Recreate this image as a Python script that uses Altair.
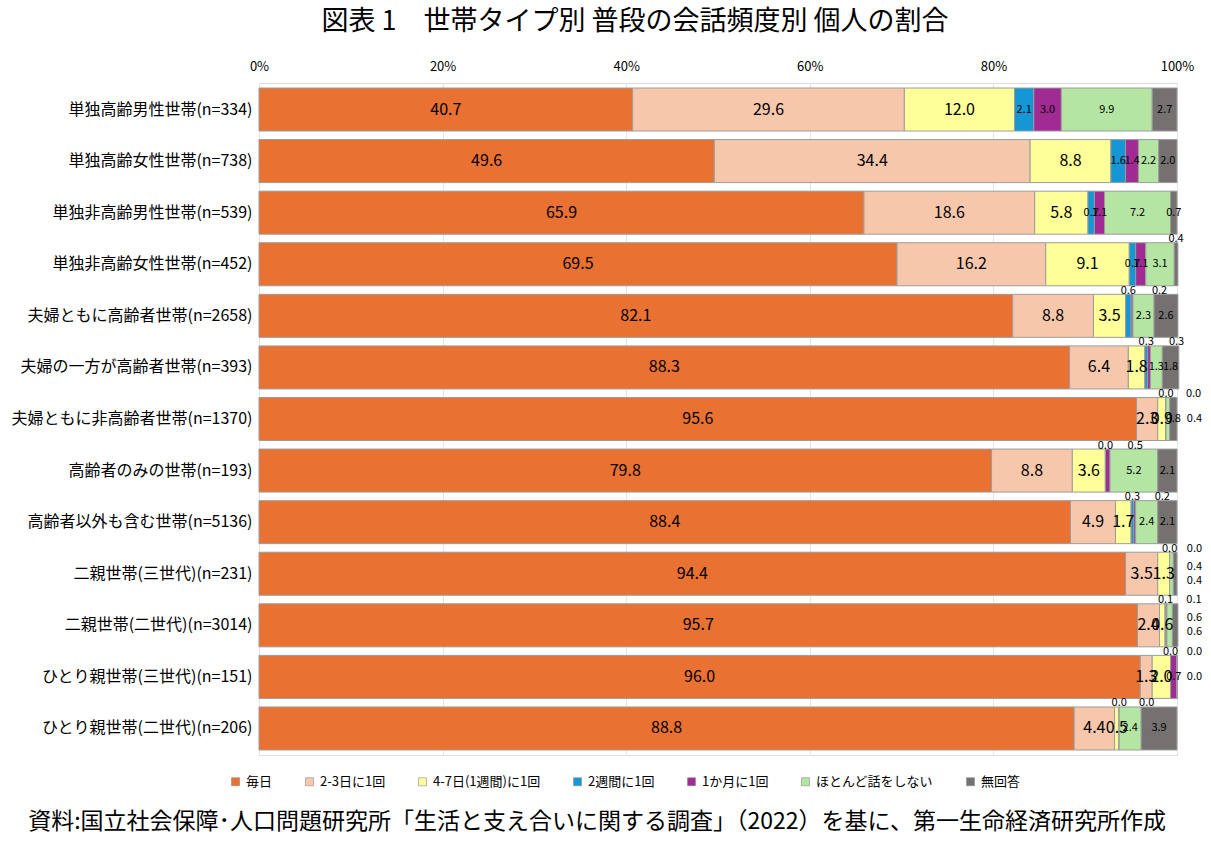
import altair as alt
import pandas as pd

# Household types (rows, top to bottom)
households = [
    "単独高齢男性世帯(n=334)",
    "単独高齢女性世帯(n=738)",
    "単独非高齢男性世帯(n=539)",
    "単独非高齢女性世帯(n=452)",
    "夫婦ともに高齢者世帯(n=2658)",
    "夫婦の一方が高齢者世帯(n=393)",
    "夫婦ともに非高齢者世帯(n=1370)",
    "高齢者のみの世帯(n=193)",
    "高齢者以外も含む世帯(n=5136)",
    "二親世帯(三世代)(n=231)",
    "二親世帯(二世代)(n=3014)",
    "ひとり親世帯(三世代)(n=151)",
    "ひとり親世帯(二世代)(n=206)",
]

# Conversation frequency categories and their colours
series = ["毎日", "2-3日に1回", "4-7日(1週間)に1回", "2週間に1回",
          "1か月に1回", "ほとんど話をしない", "無回答"]
colors = ["#E97132", "#F7C7AC", "#FFFF99", "#1497D4",
          "#A02B93", "#B4E5A2", "#767171"]

# Share of individuals (%) per category, one value per household type
daily = [40.7, 49.6, 65.9, 69.5, 82.1, 88.3, 95.6, 79.8, 88.4, 94.4, 95.7, 96.0, 88.8]
every_2_3 = [29.6, 34.4, 18.6, 16.2, 8.8, 6.4, 2.3, 8.8, 4.9, 3.5, 2.4, 1.3, 4.4]
weekly = [12.0, 8.8, 5.8, 9.1, 3.5, 1.8, 0.9, 3.6, 1.7, 1.3, 0.6, 2.0, 0.5]
biweekly = [2.1, 1.6, 0.7, 0.7, 0.6, 0.3, 0.0, 0.0, 0.3, 0.0, 0.1, 0.0, 0.0]
monthly = [3.0, 1.4, 1.1, 1.1, 0.2, 0.3, 0.0, 0.5, 0.2, 0.0, 0.1, 0.7, 0.0]
rarely = [9.9, 2.2, 7.2, 3.1, 2.3, 1.3, 0.4, 5.2, 2.4, 0.4, 0.6, 0.0, 2.4]
no_answer = [2.7, 2.0, 0.7, 0.4, 2.6, 1.8, 0.8, 2.1, 2.1, 0.4, 0.6, 0.0, 3.9]

x_ticks = [0, 20, 40, 60, 80, 100]

title_text = "図表 1　世帯タイプ別 普段の会話頻度別 個人の割合"
source_text = "資料:国立社会保障･人口問題研究所「生活と支え合いに関する調査」（2022）を基に、第一生命経済研究所作成"

FONT = "Noto Sans CJK JP"

columns = [daily, every_2_3, weekly, biweekly, monthly, rarely, no_answer]
rows = []
for k, (name, vals) in enumerate(zip(series, columns)):
    for h, v in zip(households, vals):
        rows.append({"household": h, "series": name, "order": k, "value": v})
df = pd.DataFrame(rows)

y_enc = alt.Y(
    "household:N",
    sort=households,
    title=None,
    scale=alt.Scale(paddingInner=0.166, paddingOuter=0.097),
    axis=alt.Axis(labelFontSize=16, labelColor="#000000", labelFont=FONT,
                  ticks=False, domain=False, labelPadding=7, labelLimit=400),
)

base = alt.Chart(df)

bars = base.mark_bar(stroke="#9c9c9c", strokeWidth=1).encode(
    x=alt.X(
        "value:Q",
        stack="zero",
        title=None,
        scale=alt.Scale(domain=[0, 100], nice=False),
        axis=alt.Axis(orient="top", values=x_ticks, labelExpr="datum.value + '%'",
                      grid=True, gridColor="#e4e4e4", domain=False, ticks=False,
                      labelFontSize=13, labelColor="#000000", labelFont=FONT,
                      labelPadding=10, labelFlush=False),
    ),
    y=y_enc,
    color=alt.Color(
        "series:N",
        sort=series,
        scale=alt.Scale(domain=series, range=colors),
        legend=alt.Legend(
            title=None, orient="none", direction="horizontal",
            legendX=-30, legendY=692,
            symbolType="square", symbolSize=64,
            symbolStrokeColor="#8c8c8c", symbolStrokeWidth=0.6,
            labelFontSize=13, labelFont=FONT, labelColor="#000000",
            columnPadding=30, labelLimit=300, symbolOffset=0,
        ),
    ),
    order=alt.Order("order:Q"),
)

# Segment edges and centres, plus a running index (and count) of the narrow
# segments among the minor categories so their labels can be moved off the bar.
stacked = base.transform_stack(
    stack="value", groupby=["household"],
    sort=[alt.SortField("order", order="ascending")],
    as_=["x0", "x1"],
).transform_calculate(
    mid="(datum.x0 + datum.x1) / 2",
    tiny="datum.order >= 3 && datum.value < 0.7 ? 1 : 0",
).transform_window(
    rank="row_number()",
    groupby=["household", "tiny"],
    sort=[alt.SortField("order", order="ascending")],
).transform_joinaggregate(
    n_tiny="sum(tiny)", groupby=["household"],
).transform_calculate(
    mid_shift="min(datum.mid + 3, 101.9)",
    side_x="100 + 1.9",
)

label_enc = dict(y=y_enc, text=alt.Text("value:Q", format=".1f"))


def label_layer(cond, xfield, size=11, dy=0):
    return stacked.transform_filter(cond).mark_text(
        fontSize=size, font=FONT, color="#000000", baseline="middle", dy=dy
    ).encode(x=alt.X(f"{xfield}:Q"), **label_enc)


label_big = label_layer("datum.order < 3", "mid", size=16)
label_small = label_layer("datum.order >= 3 && datum.tiny == 0", "mid")

# narrow segments: the first two labels sit above the bar, the rest to its right
tiny_layers = [
    label_layer("datum.tiny == 1 && datum.rank == 1", "mid", dy=-25),
    label_layer("datum.tiny == 1 && datum.rank == 2", "mid_shift", dy=-25),
    label_layer("datum.tiny == 1 && datum.rank == 3 && datum.n_tiny == 3", "side_x", dy=0),
    label_layer("datum.tiny == 1 && datum.rank == 3 && datum.n_tiny == 4", "side_x", dy=-7),
    label_layer("datum.tiny == 1 && datum.rank == 4", "side_x", dy=7),
]

title = alt.Chart(pd.DataFrame({"t": [title_text]})).mark_text(
    fontSize=27, font=FONT, color="#000000", align="center", baseline="middle"
).encode(text="t:N", x=alt.value(376), y=alt.value(-61))

source = alt.Chart(pd.DataFrame({"t": [source_text]})).mark_text(
    fontSize=23, font=FONT, color="#000000", align="center", baseline="middle"
).encode(text="t:N", x=alt.value(338), y=alt.value(739))

chart = alt.layer(
    bars, label_big, label_small, *tiny_layers, title, source,
).properties(
    width=918,
    height=672,
    padding={"left": 259, "top": 83, "right": 34, "bottom": 87},
    autosize=alt.AutoSizeParams(type="none"),
).configure_view(stroke=None).configure(background="#ffffff")

chart.save("out.html", embed_options={"renderer": "svg", "actions": False})
